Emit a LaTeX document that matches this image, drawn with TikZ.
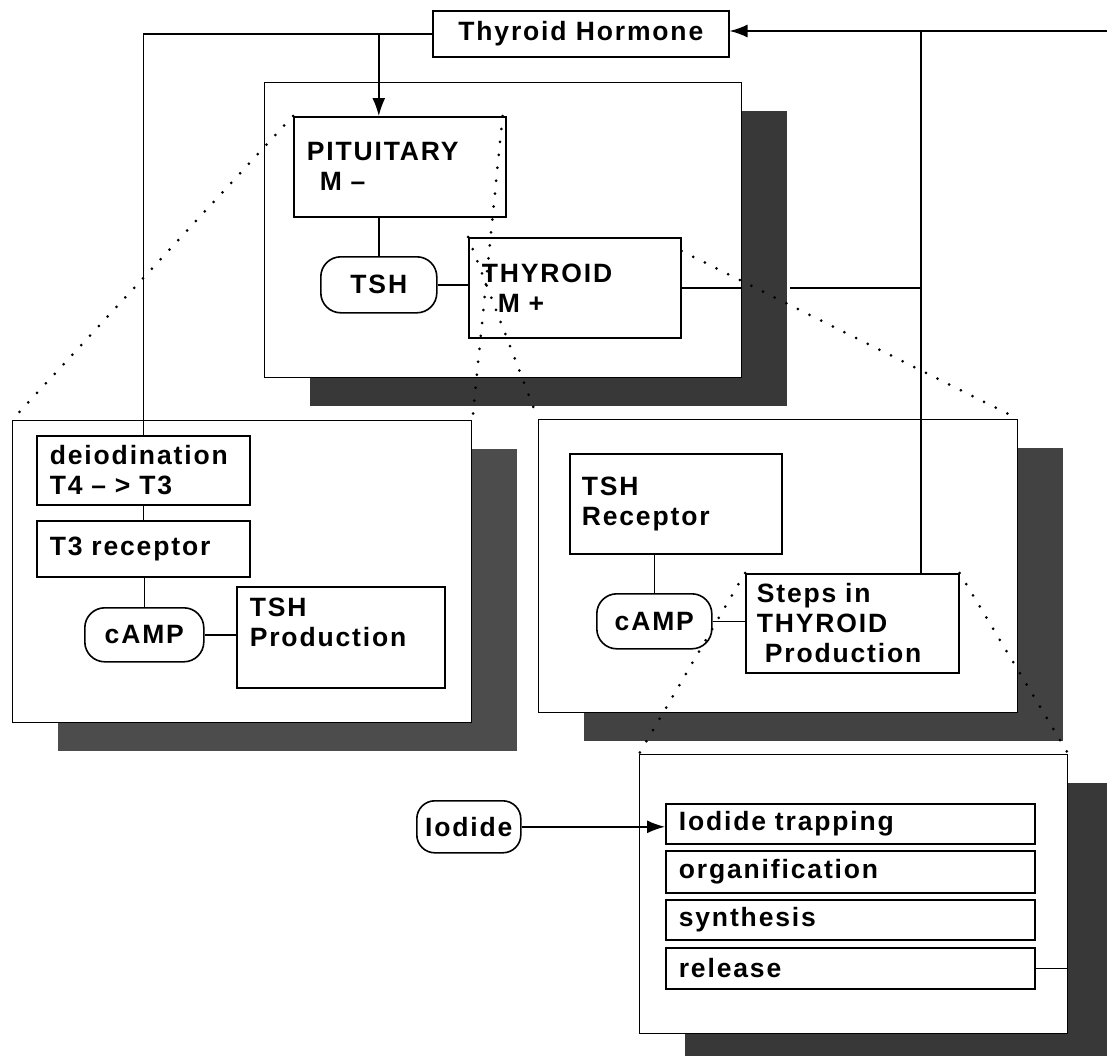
\documentclass[tikz,border=0pt]{standalone}
\usepackage{fontspec}
\newfontfamily\diagfont{Liberation Sans}[LetterSpace=7]
\usetikzlibrary{arrows.meta,shadows}

\begin{document}
\begin{tikzpicture}[x=1pt, y=-1pt,
        every node/.style={font=\diagfont\bfseries\fontsize{26.5}{30}\selectfont},
        panel/.style={draw, line width=1.4pt, fill=white, anchor=north west,
          drop shadow={shadow xshift=45pt, shadow yshift=-28pt, opacity=1, fill=#1}},
        box/.style={draw, line width=1.6pt, fill=white, anchor=north west,
          inner xsep=13pt, inner ysep=0pt, align=left},
        pill/.style={draw, line width=1.6pt, fill=white, anchor=north west,
          rounded corners=20pt, inner sep=0pt},
        listbox/.style={box, minimum width=369pt, text width=343pt},
        link/.style={line width=1.6pt},
        tip/.style={-{Latex[length=18pt,width=13pt]}},
        zoomline/.style={line width=3pt, line cap=round, dash pattern=on 0pt off 13pt}]
        \useasboundingbox (0,0) rectangle (1107,1055);

        % the four panels
        \node[panel=black!78, minimum width=477pt, minimum height=295pt] (cpanel) at (264,82) {};
        \node[panel=black!70, minimum width=459pt, minimum height=302pt] (lpanel) at (12,420) {};
        \node[panel=black!74, minimum width=479pt, minimum height=293pt] (rpanel) at (538,419) {};
        \node[panel=black!78, minimum width=428pt, minimum height=279pt] (bpanel) at (639,754) {};

        \node[box, align=center, inner xsep=0pt, minimum width=296pt, minimum height=46pt]
          (hormone) at (432,10) {Thyroid Hormone};

        \node[box, minimum width=212pt, text width=186pt, minimum height=100pt]
          (pit) at (293,116) {PITUITARY\\\hspace*{13pt}M –};
        \node[pill, minimum width=116pt, minimum height=56pt] (tsh) at (320,256) {TSH};
        \node[box, minimum width=212pt, text width=186pt, minimum height=100pt]
          (thy) at (468,237) {THYROID\\\hspace*{16pt}M +};

        \node[box, minimum width=213pt, text width=187pt, minimum height=69pt]
          (deio) at (36,435) {deiodination\\T4 – > T3};
        \node[box, minimum width=213pt, text width=187pt, minimum height=56pt]
          (t3r) at (36,520) {T3 receptor};
        \node[pill, minimum width=119pt, minimum height=54pt] (lcamp) at (84,607) {cAMP};
        \node[box, minimum width=208pt, text width=182pt, minimum height=101pt]
          (tshp) at (236,586) {TSH\\Production\\\mbox{}};

        \node[box, minimum width=212pt, text width=188pt, inner xsep=12pt, minimum height=100pt]
          (tshr) at (569,453) {TSH\\Receptor};
        \node[pill, minimum width=115pt, minimum height=55pt] (rcamp) at (596,593) {cAMP};
        \node[box, minimum width=213pt, text width=191pt, inner xsep=11pt, minimum height=99pt]
          (steps) at (745,573) {Steps in\\THYROID\\\hspace*{8pt}Production};

        \node[pill, rounded corners=18pt, inner xsep=6pt, minimum width=104pt, minimum height=52pt]
          (iod) at (416,800) {Iodide};
        \node[listbox, minimum height=40pt] (trap) at (665,803) {Iodide trapping};
        \node[listbox, minimum height=42pt] (org) at (665,850) {organification};
        \node[listbox, minimum height=40pt] (syn) at (665,899) {synthesis};
        \node[listbox, minimum height=41pt] (rel) at (665,947) {release};

        \coordinate (rend) at (1107,31);
        \coordinate (rv) at (921,31);
        \coordinate (cedge) at ([xshift=48pt]cpanel.east);

        \draw[link] (hormone.west) -| (deio.north);
        \draw[link, tip] (hormone.west -| tsh) -- (tsh |- pit.north);
        \draw[link, tip] (rend) -- (rend -| hormone.east);
        \draw[link] (rv) -- (rv |- steps.north);

        \draw[link] (pit.south -| tsh) -- (tsh.north);
        \draw[link] (tsh.east) -- (tsh.east -| thy.west);
        \draw[link] (thy.east) -- (thy.east -| cpanel.east);
        \draw[link] (thy.east -| cedge) -- (thy.east -| rv);

        \draw[link] (deio.south) -- (t3r.north);
        \draw[link] (t3r.south -| lcamp) -- (lcamp.north);
        \draw[link] (lcamp.east) -- (lcamp.east -| tshp.west);

        \draw[link] (tshr.south -| rcamp) -- (rcamp.north);
        \draw[link] (rcamp.east) -- (rcamp.east -| steps.west);

        \draw[link, tip] (iod.east) -- (iod.east -| trap.west);
        \draw[link] (rel.east) -- (rel.east -| bpanel.east);

        % zoom-in guides
        \draw[zoomline] (pit.north west) -- (lpanel.north west);
        \draw[zoomline] ([xshift=-4pt]pit.north east) -- (lpanel.north east);
        \draw[zoomline] (thy.north west) -- (rpanel.north west);
        \draw[zoomline] ([yshift=-14pt]thy.north east) -- (rpanel.north east);
        \draw[zoomline] (steps.north west) -- (bpanel.north west);
        \draw[zoomline] (steps.north east) -- (bpanel.north east);
\end{tikzpicture}
\end{document}
